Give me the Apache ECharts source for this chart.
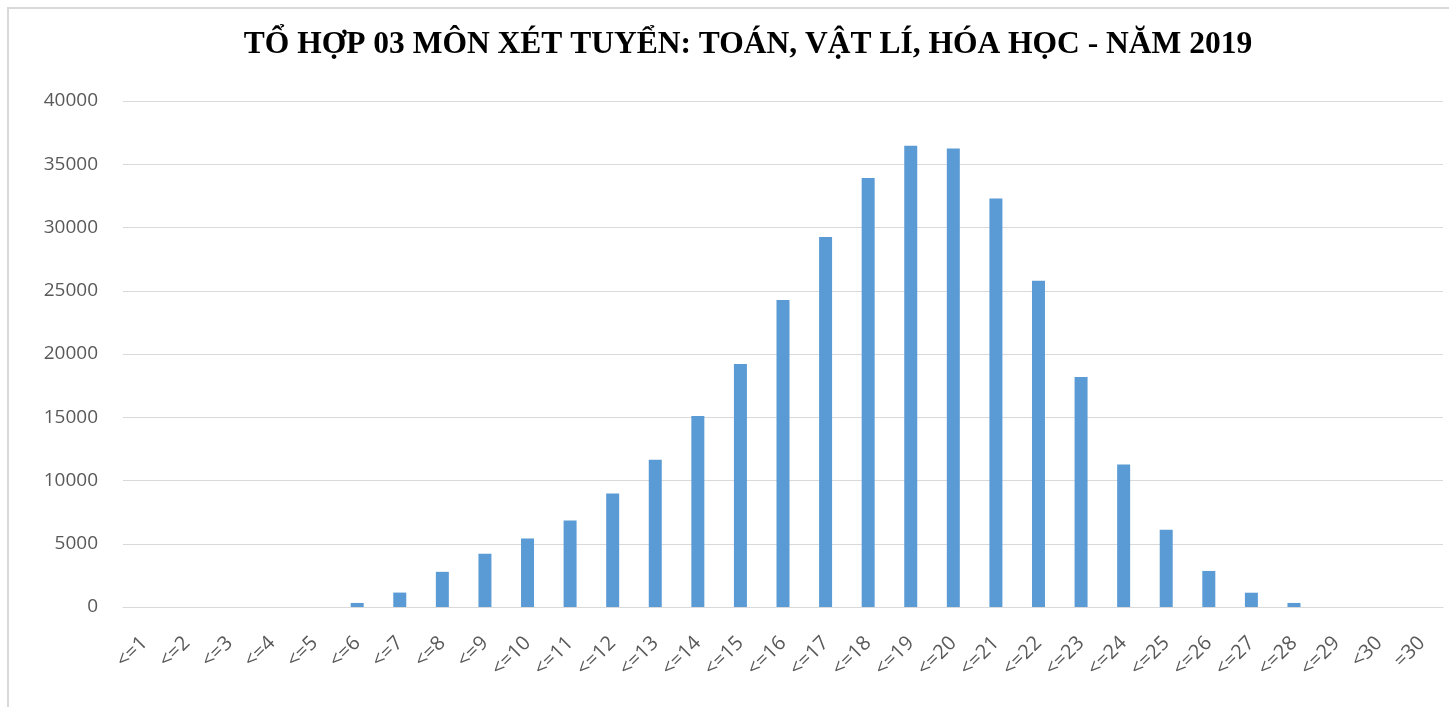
<!DOCTYPE html>
<html>
<head>
<meta charset="utf-8">
<title>Tổ hợp 03 môn</title>
<script src="https://cdn.jsdelivr.net/npm/echarts@6/dist/echarts.min.js"></script>
<style>
    html, body { margin: 0; padding: 0; background: #fff; }
    #chart { width: 1449px; height: 707px; }
</style>
</head>
<body>
<div id="chart"></div>
<script>
    // diem xet tuyen (nhom)
    const categories = ['<=1', '<=2', '<=3', '<=4', '<=5', '<=6', '<=7', '<=8', '<=9', '<=10',
        '<=11', '<=12', '<=13', '<=14', '<=15', '<=16', '<=17', '<=18', '<=19', '<=20',
        '<=21', '<=22', '<=23', '<=24', '<=25', '<=26', '<=27', '<=28', '<=29', '<30', '=30'];
    // so thi sinh, doc tu hinh
    const counts = [0, 0, 0, 0, 0, 320, 1140, 2780, 4210, 5420,
        6830, 8970, 11640, 15100, 19210, 24270, 29250, 33910, 36470, 36250,
        32300, 25790, 18180, 11270, 6110, 2850, 1130, 320, 0, 0, 0];

    let myChart = echarts.init(document.getElementById('chart'));

    let option = {
        animation: false,
        title: {
            text: 'TỔ HỢP 03 MÔN XÉT TUYỂN: TOÁN, VẬT LÍ, HÓA HỌC - NĂM 2019',
            left: 743,
            top: 24,
            textAlign: 'center',
            textStyle: {
                fontFamily: 'Liberation Serif',
                fontWeight: 'bold',
                fontSize: 31.5,
                color: '#000'
            }
        },
        graphic: [
            {
                type: 'rect',
                shape: {x: 8, y: 8, width: 1500, height: 800},
                style: {fill: 'none', stroke: '#d9d9d9', lineWidth: 2},
                silent: true
            }
        ],
        grid: {
            left: 123,
            right: 6,
            top: 101,
            bottom: 100
        },
        xAxis: {
            type: 'category',
            data: categories,
            axisLine: {lineStyle: {color: '#d9d9d9', width: 1}},
            axisTick: {show: false},
            axisLabel: {
                rotate: 45,
                margin: 33,
                interval: 0,
                fontSize: 20,
                fontFamily: 'Open Sans',
                color: '#595959'
            }
        },
        yAxis: {
            type: 'value',
            min: 0,
            max: 40000,
            interval: 5000,
            axisLine: {show: false},
            axisTick: {show: false},
            axisLabel: {
                margin: 25,
                fontSize: 19,
                fontFamily: 'Open Sans',
                color: '#595959',
                formatter: v => String(v)
            },
            splitLine: {lineStyle: {color: '#d9d9d9', width: 1}}
        },
        series: [
            {
                type: 'bar',
                data: counts,
                barWidth: 13,
                itemStyle: {
                    color: '#5b9bd5'
                }
            }
        ]
    };
    myChart.setOption(option);
</script>
</body>
</html>
